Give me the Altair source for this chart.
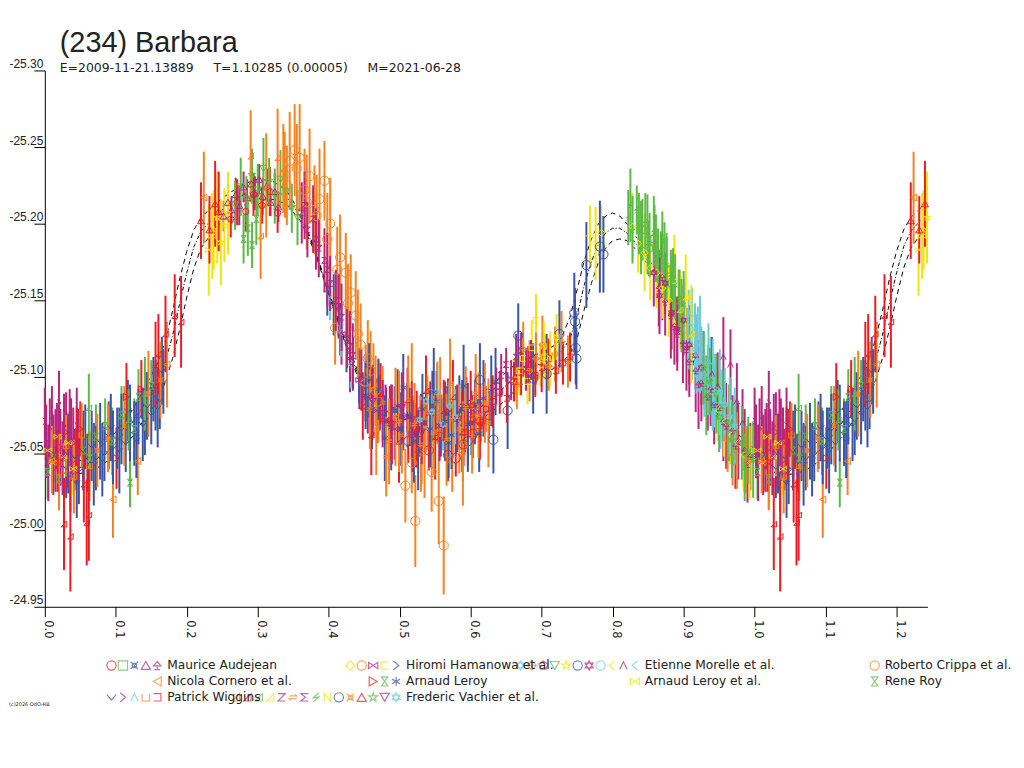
import altair as alt
import pandas as pd

# ---------------- colours & symbols (style) ----------------
RED = "#ec1c24"
ORANGE = "#f58220"
BLUE = "#3b54a5"
GREEN = "#5db947"
MAGENTA = "#b5267d"
YELLOW = "#f2e40c"
CYAN = "#6dcadb"

SHP = {
    "circle": "circle",
    "square": "square",
    "diamond": "diamond",
    "tri_up": "triangle-up",
    "tri_down": "triangle-down",
    "tri_left": "triangle-left",
    "tri_right": "triangle-right",
    "bowtie": "M-1,-0.7L1,0.7L1,-0.7L-1,0.7Z",
    "hourglass": "M-0.7,-1L0.7,-1L-0.7,1L0.7,1Z",
    "chev_v": "M-1,-0.6L0,0.6L1,-0.6",
    "chev_r": "M-0.6,-1L0.6,0L-0.6,1",
    "chev_l": "M0.6,-1L-0.6,0L0.6,1",
    "chev_up": "M-0.8,0.8L0,-0.8L0.8,0.8",
    "cup": "M-0.8,-0.8L-0.8,0.8L0.8,0.8L0.8,-0.8",
    "sqr_r": "M-0.8,-0.8L0.8,-0.8L0.8,0.8L-0.8,0.8",
    "sqr_l": "M0.8,-0.8L-0.8,-0.8L-0.8,0.8L0.8,0.8",
    "zee": "M-0.8,-0.8L0.8,-0.8L-0.8,0.8L0.8,0.8",
    "sigma": "M0.8,-0.8L-0.8,-0.8L0.2,0L-0.8,0.8L0.8,0.8",
    "bolt": "M0.6,-1L-0.6,0.1L0.6,-0.1L-0.6,1",
    "enn": "M-0.7,0.9L-0.7,-0.9L0.7,0.9L0.7,-0.9",
    "star": "M0,-1L0.22,-0.31L0.95,-0.31L0.36,0.12L0.59,0.81L0,0.38L-0.59,0.81L-0.36,0.12L-0.95,-0.31L-0.22,-0.31Z",
    "david": "M0,-1L0.87,0.5L-0.87,0.5Z M0,1L0.87,-0.5L-0.87,-0.5Z",
    "tee": "M-0.8,0.1L0,-0.9L0.8,0.1Z M0,0.1L0,0.9 M-0.6,0.9L0.6,0.9",
    "pentagon": "M0,-1L0.95,-0.31L0.59,0.81L-0.59,0.81L-0.95,-0.31Z",
    "rtri": "M-0.8,0.8L0.8,0.8L0.8,-0.8Z",
    "aster": "M0,-1L0,1M-0.87,-0.5L0.87,0.5M-0.87,0.5L0.87,-0.5",
    "boxtie": "M-0.8,-0.8L0.8,0.8M-0.8,0.8L0.8,-0.8M-0.45,-0.45L0.45,-0.45L0.45,0.45L-0.45,0.45Z",
    "swap": "M-0.8,-0.3L0.8,-0.3L0.4,-0.7M0.8,0.3L-0.8,0.3L-0.4,0.7",
    "dcross": "M0,-1L1,0L0,1L-1,0Z M0,-1L0,1 M-1,0L1,0",
}

# ---------------- data ----------------
# Maurice Audejean
AUD1_PH = [0.512, 0.527, 0.541, 0.556, 0.568, 0.579, 0.590, 0.603, 0.614, 0.626]
AUD1_MAG = [-25.058, -25.064, -25.052, -25.061, -25.049, -25.047, -25.056, -25.063, -25.071, -25.075]
AUD1_ERR = [0.014, 0.016, 0.013, 0.015, 0.017, 0.012, 0.014, 0.016, 0.013, 0.015]

AUD2_PH = [0.842, 0.851, 0.859, 0.868, 0.876, 0.884, 0.893]
AUD2_MAG = [-25.196, -25.184, -25.190, -25.176, -25.170, -25.161, -25.150]
AUD2_ERR = [0.020, 0.018, 0.022, 0.019, 0.021, 0.018, 0.020]

AUD3_PH = [0.472, 0.481, 0.493, 0.502, 0.514, 0.523, 0.535, 0.546, 0.558, 0.567, 0.579, 0.588, 0.601, 0.612]
AUD3_MAG = [-25.083, -25.071, -25.078, -25.066, -25.074, -25.062, -25.070, -25.081, -25.068, -25.076, -25.072, -25.079, -25.070, -25.084]
AUD3_ERR = [0.018, 0.022, 0.016, 0.024, 0.019, 0.021, 0.017, 0.023, 0.020, 0.018, 0.022, 0.019, 0.021, 0.017]

AUD4_PH = [0.252, 0.258, 0.263, 0.269, 0.274, 0.280, 0.285, 0.291, 0.296, 0.302, 0.307, 0.313, 0.318, 0.324, 0.329]
AUD4_MAG = [-25.205, -25.214, -25.209, -25.219, -25.212, -25.224, -25.217, -25.226, -25.220, -25.229, -25.218, -25.225, -25.214, -25.221, -25.211]
AUD4_ERR = [0.010, 0.012, 0.009, 0.011, 0.013, 0.010, 0.012, 0.009, 0.011, 0.010, 0.012, 0.011, 0.009, 0.012, 0.010]

AUD5_PH = [0.865, 0.874, 0.882, 0.891, 0.899, 0.908, 0.917, 0.925, 0.934, 0.943, 0.951, 0.960, 0.969, 0.977, 0.986, 0.994,
           0.870, 0.887, 0.904, 0.921, 0.938, 0.956, 0.973, 0.990]
AUD5_MAG = [-25.158, -25.149, -25.140, -25.128, -25.122, -25.110, -25.104, -25.096, -25.087, -25.082, -25.080, -25.068, -25.065, -25.058, -25.052, -25.048,
            -25.165, -25.133, -25.118, -25.095, -25.092, -25.071, -25.055, -25.043]
AUD5_ERR = [0.025, 0.022, 0.028, 0.024, 0.026, 0.023, 0.027, 0.025, 0.022, 0.026, 0.024, 0.028, 0.023, 0.025, 0.027, 0.022,
            0.028, 0.025, 0.027, 0.029, 0.024, 0.026, 0.028, 0.025]

# Hiromi Hamanowa et al.
HAM1_PH = [0.768, 0.776, 0.784, 0.828, 0.836, 0.845, 0.853, 0.862, 0.870, 0.879]
HAM1_MAG = [-25.192, -25.187, -25.194, -25.198, -25.187, -25.181, -25.171, -25.168, -25.158, -25.150]
HAM1_ERR = [0.020, 0.024, 0.018, 0.022, 0.019, 0.025, 0.021, 0.023, 0.020, 0.024]

HAM2_PH = [0.508, 0.517, 0.522, 0.531, 0.545, 0.555, 0.562, 0.574, 0.589]
HAM2_MAG = [-25.029, -25.044, -25.006, -25.052, -25.038, -25.019, -24.990, -25.046, -25.055]
HAM2_ERR = [0.024, 0.020, 0.030, 0.022, 0.026, 0.028, 0.032, 0.021, 0.023]

HAM3_PH = [0.418, 0.430, 0.443, 0.455, 0.468, 0.480, 0.493, 0.505, 0.518, 0.530, 0.543, 0.556, 0.568, 0.581, 0.594, 0.606]
HAM3_MAG = [-25.128, -25.112, -25.098, -25.087, -25.078, -25.072, -25.066, -25.074, -25.063, -25.070, -25.076, -25.068, -25.079, -25.073, -25.081, -25.077]
HAM3_ERR = [0.020, 0.022, 0.019, 0.024, 0.021, 0.023, 0.020, 0.022, 0.025, 0.019, 0.021, 0.023, 0.020, 0.022, 0.019, 0.021]

HAM4_PH = [0.662, 0.668, 0.674, 0.680, 0.686, 0.692, 0.698, 0.704]
HAM4_MAG = [-25.098, -25.104, -25.112, -25.097, -25.119, -25.137, -25.108, -25.113]
HAM4_ERR = [0.014, 0.016, 0.013, 0.015, 0.018, 0.017, 0.014, 0.015]

HAM5_PH = [0.398, 0.407, 0.416, 0.425, 0.434, 0.443, 0.452, 0.461]
HAM5_MAG = [-25.158, -25.147, -25.131, -25.124, -25.110, -25.101, -25.093, -25.087]
HAM5_ERR = [0.018, 0.020, 0.017, 0.021, 0.019, 0.018, 0.022, 0.020]

# Etienne Morelle et al.
MOR1_PH = [0.528, 0.537, 0.545, 0.553, 0.561, 0.570, 0.578]
MOR1_MAG = [-25.072, -25.084, -25.077, -25.090, -25.069, -25.081, -25.074]
MOR1_ERR = [0.016, 0.018, 0.015, 0.019, 0.017, 0.016, 0.018]

MOR2_PH = [0.665, 0.674, 0.683, 0.692, 0.701, 0.710, 0.719, 0.728, 0.737]
MOR2_MAG = [-25.095, -25.118, -25.104, -25.112, -25.121, -25.107, -25.115, -25.123, -25.110]
MOR2_ERR = [0.016, 0.018, 0.020, 0.017, 0.019, 0.016, 0.018, 0.020, 0.017]

MOR3_PH = [0.262, 0.271, 0.283, 0.294, 0.306, 0.317, 0.328]
MOR3_MAG = [-25.203, -25.214, -25.208, -25.219, -25.212, -25.221, -25.207]
MOR3_ERR = [0.012, 0.015, 0.013, 0.014, 0.012, 0.016, 0.013]

MOR4_PH = [0.268, 0.276, 0.284, 0.292, 0.300, 0.308, 0.316, 0.324, 0.332, 0.340, 0.348, 0.356]
MOR4_MAG = [-25.212, -25.224, -25.216, -25.231, -25.222, -25.236, -25.227, -25.218, -25.229, -25.221, -25.210, -25.204]
MOR4_ERR = [0.016, 0.019, 0.015, 0.018, 0.017, 0.020, 0.016, 0.018, 0.019, 0.017, 0.016, 0.018]

MOR5_PH = [0.238, 0.243, 0.248, 0.253, 0.258]
MOR5_MAG = [-25.196, -25.204, -25.188, -25.199, -25.207]
MOR5_ERR = [0.026, 0.030, 0.028, 0.024, 0.027]

MOR6_PH = [0.596, 0.613, 0.632, 0.652, 0.667, 0.688, 0.707, 0.725]
MOR6_MAG = [-25.058, -25.098, -25.059, -25.078, -25.127, -25.099, -25.102, -25.128]
MOR6_ERR = [0.020, 0.024, 0.022, 0.025, 0.021, 0.023, 0.026, 0.022]

MOR7_PH = [0.858, 0.866, 0.874, 0.883, 0.891, 0.900, 0.908, 0.917, 0.925]
MOR7_MAG = [-25.168, -25.153, -25.161, -25.142, -25.131, -25.137, -25.121, -25.114, -25.106]
MOR7_ERR = [0.022, 0.025, 0.020, 0.024, 0.021, 0.023, 0.026, 0.022, 0.024]

MOR8_PH = [0.902, 0.907, 0.911, 0.916, 0.920, 0.925, 0.929, 0.934, 0.938, 0.943, 0.947, 0.952]
MOR8_MAG = [-25.142, -25.131, -25.137, -25.124, -25.118, -25.112, -25.104, -25.098, -25.106, -25.091, -25.086, -25.079]
MOR8_ERR = [0.022, 0.026, 0.020, 0.024, 0.028, 0.021, 0.025, 0.023, 0.020, 0.024, 0.022, 0.026]

MOR9_PH = [0.948, 0.957, 0.966, 0.975, 0.984, 0.993]
MOR9_MAG = [-25.078, -25.071, -25.062, -25.057, -25.049, -25.044]
MOR9_ERR = [0.020, 0.023, 0.019, 0.022, 0.021, 0.024]

MOR10_PH = [0.940, 0.948, 0.956, 0.966, 0.975, 0.983]
MOR10_MAG = [-25.102, -25.094, -25.113, -25.108, -25.084, -25.070]
MOR10_ERR = [0.024, 0.022, 0.026, 0.023, 0.025, 0.022]

MOR11_PH = [0.402, 0.417, 0.431, 0.446, 0.460]
MOR11_MAG = [-25.151, -25.129, -25.108, -25.096, -25.084]
MOR11_ERR = [0.014, 0.016, 0.015, 0.017, 0.014]

# Roberto Crippa et al.
CRI_PH = [0.338, 0.345, 0.352, 0.359, 0.366, 0.373, 0.380, 0.387, 0.394, 0.402, 0.409, 0.416, 0.424, 0.431, 0.438, 0.445, 0.452, 0.459, 0.466,
          0.341, 0.355, 0.369, 0.383, 0.398, 0.412, 0.427, 0.441, 0.455, 0.470]
CRI_MAG = [-25.232, -25.241, -25.248, -25.243, -25.222, -25.231, -25.209, -25.216, -25.228, -25.200, -25.132, -25.178, -25.168, -25.155, -25.140, -25.121, -25.097, -25.104, -25.091,
           -25.225, -25.236, -25.214, -25.205, -25.190, -25.170, -25.148, -25.128, -25.112, -25.084]
CRI_ERR = [0.028, 0.032, 0.030, 0.035, 0.027, 0.031, 0.029, 0.033, 0.026, 0.030, 0.024, 0.028, 0.026, 0.025, 0.029, 0.027, 0.024, 0.026, 0.023,
           0.026, 0.029, 0.031, 0.027, 0.030, 0.028, 0.026, 0.029, 0.025, 0.027]

# Nicola Cornero et al.
COR_PH = [0.096, 0.131, 0.172, 0.224, 0.969]
COR_MAG = [-25.020, -25.045, -25.108, -25.217, -25.049]
COR_ERR = [0.025, 0.022, 0.028, 0.030, 0.020]

# Arnaud Leroy
LER1_PH = [0.050, 0.101, 0.115, 0.136]
LER1_MAG = [-25.066, -25.047, -25.087, -25.092]
LER1_ERR = [0.018, 0.020, 0.022, 0.019]

LER2_PH = [0.280, 0.286, 0.292, 0.298]
LER2_MAG = [-25.190, -25.197, -25.186, -25.203]
LER2_ERR = [0.016, 0.018, 0.015, 0.017]

LER3_PH = [0.452, 0.461, 0.470, 0.488, 0.497, 0.511, 0.520, 0.532, 0.543, 0.552, 0.564, 0.573, 0.584, 0.596, 0.607, 0.618, 0.629,
           0.457, 0.479, 0.505, 0.526, 0.548, 0.569, 0.590, 0.612, 0.635]
LER3_MAG = [-25.088, -25.079, -25.092, -25.067, -25.081, -25.075, -25.058, -25.079, -25.066, -25.084, -25.071, -25.062, -25.077, -25.069, -25.081, -25.086, -25.091,
            -25.098, -25.060, -25.093, -25.052, -25.090, -25.057, -25.094, -25.063, -25.097]
LER3_ERR = [0.022, 0.026, 0.020, 0.028, 0.024, 0.021, 0.027, 0.023, 0.025, 0.020, 0.026, 0.022, 0.024, 0.027, 0.021, 0.025, 0.023,
            0.024, 0.028, 0.022, 0.026, 0.029, 0.023, 0.027, 0.025, 0.022]

# Arnaud Leroy et al.
LEA_PH = [0.004, 0.011, 0.018, 0.026, 0.033, 0.040, 0.231, 0.236]
LEA_MAG = [-25.052, -25.044, -25.061, -25.048, -25.057, -25.040, -25.183, -25.192]
LEA_ERR = [0.016, 0.019, 0.015, 0.018, 0.020, 0.017, 0.030, 0.028]

# Rene Roy
ROY_PH = [0.004, 0.012, 0.020, 0.054, 0.063, 0.072, 0.085, 0.095, 0.108, 0.120, 0.126, 0.132, 0.143, 0.150]
ROY_MAG = [-25.038, -25.047, -25.033, -25.052, -25.047, -25.061, -25.068, -25.058, -25.075, -25.031, -25.066, -25.087, -25.082, -25.094]
ROY_ERR = [0.018, 0.016, 0.019, 0.020, 0.017, 0.021, 0.018, 0.022, 0.019, 0.016, 0.020, 0.018, 0.021, 0.017]

# Patrick Wiggins
WIG1_PH = [0.030, 0.036, 0.042, 0.048, 0.054, 0.060, 0.066, 0.072, 0.078, 0.084, 0.090, 0.096, 0.102, 0.108, 0.114, 0.120, 0.126, 0.132, 0.138, 0.144, 0.150, 0.156, 0.162, 0.167,
           0.033, 0.045, 0.057, 0.069, 0.081, 0.093, 0.105, 0.117, 0.129, 0.141, 0.153, 0.159, 0.165]
WIG1_MAG = [-25.041, -25.036, -25.048, -25.039, -25.052, -25.044, -25.055, -25.047, -25.058, -25.050, -25.062, -25.054, -25.060, -25.066, -25.057, -25.070, -25.063, -25.074, -25.069, -25.081, -25.076, -25.088, -25.085, -25.097,
            -25.050, -25.031, -25.061, -25.043, -25.046, -25.067, -25.052, -25.078, -25.059, -25.072, -25.092, -25.080, -25.104]
WIG1_ERR = [0.020, 0.024, 0.018, 0.022, 0.026, 0.019, 0.023, 0.021, 0.025, 0.018, 0.022, 0.024, 0.020, 0.023, 0.019, 0.025, 0.021, 0.018, 0.024, 0.022, 0.020, 0.023, 0.019, 0.021,
            0.026, 0.023, 0.021, 0.027, 0.024, 0.022, 0.028, 0.020, 0.025, 0.023, 0.021, 0.026, 0.022]

WIG2_PH = [0.002, 0.007, 0.012, 0.017, 0.022, 0.027, 0.032, 0.037, 0.042, 0.047,
           0.000, 0.005, 0.010, 0.015, 0.020, 0.025, 0.030, 0.035, 0.040, 0.045]
WIG2_MAG = [-25.058, -25.066, -25.049, -25.061, -25.054, -25.068, -25.051, -25.059, -25.046, -25.055,
            -25.071, -25.044, -25.075, -25.052, -25.083, -25.047, -25.064, -25.072, -25.057, -25.068]
WIG2_ERR = [0.024, 0.020, 0.026, 0.022, 0.025, 0.021, 0.023, 0.027, 0.020, 0.024,
            0.022, 0.025, 0.019, 0.027, 0.021, 0.024, 0.026, 0.020, 0.023, 0.025]

WIG3_PH = [0.912, 0.918, 0.923, 0.929, 0.935, 0.941]
WIG3_MAG = [-25.128, -25.115, -25.121, -25.102, -25.110, -25.095]
WIG3_ERR = [0.030, 0.026, 0.032, 0.028, 0.025, 0.030]

WIG4_PH = [0.010, 0.020, 0.030, 0.041, 0.052, 0.063, 0.962, 0.975, 0.988]
WIG4_MAG = [-25.046, -25.038, -25.055, -25.035, -25.062, -25.042, -25.060, -25.052, -25.045]
WIG4_ERR = [0.022, 0.025, 0.020, 0.024, 0.021, 0.023, 0.022, 0.025, 0.021]

WIG5_PH = [0.592, 0.602, 0.612, 0.621, 0.631, 0.641, 0.651, 0.661, 0.671, 0.681, 0.691, 0.700, 0.710, 0.720, 0.730, 0.740]
WIG5_MAG = [-25.064, -25.072, -25.068, -25.079, -25.084, -25.090, -25.086, -25.097, -25.103, -25.108, -25.101, -25.106, -25.112, -25.104, -25.109, -25.113]
WIG5_ERR = [0.014, 0.016, 0.013, 0.015, 0.017, 0.014, 0.016, 0.013, 0.015, 0.012, 0.014, 0.016, 0.013, 0.015, 0.014, 0.016]

# Frederic Vachier et al.
VAC1_PH = [0.290, 0.304, 0.312, 0.328, 0.336]
VAC1_MAG = [-25.244, -25.192, -25.225, -25.243, -25.236]
VAC1_ERR = [0.030, 0.028, 0.034, 0.032, 0.029]

VAC2_PH = [0.018, 0.027, 0.036, 0.045, 0.055, 0.059, 0.062, 0.156, 0.160, 0.170, 0.183, 0.192,
           0.448, 0.460, 0.473, 0.486, 0.499, 0.511, 0.524, 0.537, 0.550, 0.562, 0.575, 0.588, 0.600, 0.613]
VAC2_MAG = [-25.045, -25.004, -24.996, -25.058, -25.030, -25.005, -25.010, -25.108, -25.115, -25.128, -25.140, -25.136,
            -25.081, -25.062, -25.089, -25.070, -25.058, -25.085, -25.066, -25.091, -25.061, -25.078, -25.087, -25.064, -25.082, -25.071]
VAC2_ERR = [0.020, 0.030, 0.036, 0.022, 0.025, 0.028, 0.030, 0.028, 0.026, 0.025, 0.027, 0.030,
            0.022, 0.026, 0.020, 0.024, 0.027, 0.021, 0.025, 0.023, 0.028, 0.020, 0.024, 0.026, 0.022, 0.025]

VAC3_PH = [0.062, 0.118, 0.141]
VAC3_MAG = [-25.080, -25.072, -25.089]
VAC3_ERR = [0.022, 0.020, 0.024]

VAC4_PH = [0.887, 0.895, 0.903, 0.911]
VAC4_MAG = [-25.163, -25.144, -25.152, -25.128]
VAC4_ERR = [0.030, 0.026, 0.028, 0.032]

VAC5_PH = [0.362, 0.370, 0.378, 0.386, 0.394, 0.402, 0.410, 0.418, 0.426, 0.434,
           0.366, 0.382, 0.398, 0.414, 0.430, 0.446]
VAC5_MAG = [-25.207, -25.196, -25.203, -25.184, -25.176, -25.161, -25.150, -25.139, -25.125, -25.114,
            -25.212, -25.190, -25.170, -25.146, -25.120, -25.098]
VAC5_ERR = [0.020, 0.018, 0.022, 0.019, 0.021, 0.018, 0.020, 0.022, 0.019, 0.021,
            0.022, 0.020, 0.024, 0.021, 0.023, 0.020]

VAC6_PH = [0.458, 0.467, 0.476, 0.485, 0.494, 0.503, 0.512, 0.521, 0.530, 0.539, 0.548, 0.557, 0.566, 0.575, 0.584, 0.593, 0.602, 0.611, 0.620,
           0.463, 0.481, 0.499, 0.517, 0.535, 0.553, 0.571, 0.589, 0.607, 0.625]
VAC6_MAG = [-25.079, -25.066, -25.083, -25.058, -25.074, -25.062, -25.085, -25.069, -25.056, -25.077, -25.064, -25.087, -25.059, -25.072, -25.066, -25.080, -25.061, -25.075, -25.083,
            -25.092, -25.048, -25.071, -25.094, -25.052, -25.083, -25.095, -25.050, -25.089, -25.070]
VAC6_ERR = [0.026, 0.030, 0.024, 0.028, 0.032, 0.025, 0.029, 0.027, 0.031, 0.024, 0.028, 0.026, 0.030, 0.025, 0.029, 0.027, 0.024, 0.028, 0.026,
            0.030, 0.026, 0.033, 0.028, 0.031, 0.027, 0.030, 0.034, 0.026, 0.029]

VAC7_PH = [0.636, 0.643, 0.650, 0.657, 0.664, 0.671, 0.678, 0.685]
VAC7_MAG = [-25.094, -25.101, -25.108, -25.098, -25.113, -25.117, -25.105, -25.111]
VAC7_ERR = [0.012, 0.014, 0.011, 0.013, 0.015, 0.012, 0.014, 0.013]

VAC8_PH = [0.822, 0.828, 0.834, 0.840, 0.846, 0.852, 0.858, 0.864, 0.870, 0.876, 0.882, 0.888, 0.894, 0.900,
           0.825, 0.837, 0.849, 0.861, 0.873, 0.885, 0.897]
VAC8_MAG = [-25.204, -25.196, -25.209, -25.191, -25.201, -25.186, -25.195, -25.179, -25.188, -25.172, -25.166, -25.159, -25.151, -25.146,
            -25.212, -25.200, -25.193, -25.184, -25.176, -25.163, -25.140]
VAC8_ERR = [0.018, 0.022, 0.016, 0.024, 0.019, 0.021, 0.023, 0.018, 0.020, 0.022, 0.017, 0.021, 0.019, 0.023,
            0.024, 0.020, 0.026, 0.022, 0.025, 0.021, 0.024]

VAC9_PH = [0.703, 0.712, 0.721]
VAC9_MAG = [-25.120, -25.112, -25.126]
VAC9_ERR = [0.016, 0.018, 0.015]

VAC10_PH = [0.746, 0.747, 0.748, 0.749, 0.763, 0.782, 0.787]
VAC10_MAG = [-25.142, -25.136, -25.119, -25.112, -25.173, -25.185, -25.180]
VAC10_ERR = [0.026, 0.022, 0.024, 0.020, 0.028, 0.030, 0.025]

VAC11_PH = [0.074, 0.089, 0.112, 0.146, 0.163]
VAC11_MAG = [-25.052, -25.060, -25.068, -25.089, -25.098]
VAC11_ERR = [0.024, 0.022, 0.026, 0.028, 0.025]

VAC12_PH = [0.220, 0.232, 0.240, 0.245]
VAC12_MAG = [-25.202, -25.196, -25.213, -25.208]
VAC12_ERR = [0.025, 0.022, 0.028, 0.026]

VAC13_PH = [0.928, 0.937, 0.946, 0.955, 0.964, 0.973, 0.982, 0.991, 0.998, 0.932, 0.950, 0.968, 0.986]
VAC13_MAG = [-25.106, -25.097, -25.089, -25.081, -25.070, -25.065, -25.057, -25.052, -25.046, -25.088, -25.074, -25.059, -25.041]
VAC13_ERR = [0.024, 0.022, 0.026, 0.023, 0.025, 0.021, 0.024, 0.022, 0.025, 0.026, 0.023, 0.025, 0.022]

VAC14_PH = [0.462, 0.476, 0.489, 0.503, 0.517, 0.531]
VAC14_MAG = [-25.084, -25.076, -25.069, -25.080, -25.072, -25.064]
VAC14_ERR = [0.024, 0.022, 0.026, 0.023, 0.025, 0.021]

VAC15_PH = [0.951, 0.958, 0.965, 0.972]
VAC15_MAG = [-25.090, -25.082, -25.074, -25.068]
VAC15_ERR = [0.028, 0.024, 0.026, 0.025]

# model curve (centre and its two limits)
CURVE_PH = [0.00, 0.02, 0.04, 0.06, 0.08, 0.10, 0.12, 0.14, 0.16, 0.17, 0.18, 0.19, 0.20, 0.21, 0.22, 0.24,
            0.26, 0.28, 0.30, 0.32, 0.34, 0.36, 0.38, 0.40, 0.42, 0.44, 0.46, 0.48, 0.50, 0.52, 0.54, 0.56,
            0.58, 0.60, 0.62, 0.64, 0.66, 0.68, 0.70, 0.72, 0.73, 0.74, 0.75, 0.76, 0.77, 0.78, 0.79, 0.80,
            0.81, 0.82, 0.84, 0.86, 0.88, 0.90, 0.92, 0.94, 0.96, 0.98, 1.00, 1.02, 1.04, 1.06, 1.08, 1.10,
            1.12, 1.14, 1.16, 1.17, 1.18, 1.19, 1.20, 1.21, 1.22, 1.24]
CURVE_MID = [-25.047, -25.042, -25.040, -25.042, -25.048, -25.057, -25.068, -25.082, -25.097, -25.110, -25.127, -25.148, -25.168, -25.185, -25.195, -25.205,
             -25.213, -25.219, -25.222, -25.222, -25.218, -25.205, -25.183, -25.155, -25.127, -25.103, -25.088, -25.078, -25.073, -25.071, -25.071, -25.072,
             -25.074, -25.077, -25.082, -25.090, -25.099, -25.105, -25.109, -25.113, -25.118, -25.125, -25.140, -25.160, -25.175, -25.187, -25.194, -25.197,
             -25.197, -25.194, -25.183, -25.167, -25.147, -25.125, -25.103, -25.085, -25.070, -25.058, -25.048, -25.043, -25.040, -25.041, -25.047, -25.056,
             -25.068, -25.082, -25.097, -25.110, -25.127, -25.148, -25.168, -25.185, -25.195, -25.205]
CURVE_HI = [-25.052, -25.046, -25.044, -25.047, -25.055, -25.064, -25.076, -25.092, -25.110, -25.124, -25.143, -25.164, -25.182, -25.196, -25.204, -25.213,
            -25.220, -25.226, -25.229, -25.228, -25.222, -25.207, -25.184, -25.156, -25.128, -25.105, -25.091, -25.082, -25.078, -25.076, -25.077, -25.078,
            -25.081, -25.085, -25.091, -25.099, -25.107, -25.112, -25.116, -25.121, -25.128, -25.139, -25.157, -25.176, -25.190, -25.200, -25.205, -25.207,
            -25.205, -25.200, -25.187, -25.169, -25.148, -25.125, -25.103, -25.086, -25.072, -25.061, -25.053, -25.047, -25.045, -25.047, -25.054, -25.063,
            -25.076, -25.092, -25.110, -25.124, -25.143, -25.164, -25.182, -25.196, -25.204, -25.213]
CURVE_LO = [-25.042, -25.038, -25.036, -25.038, -25.042, -25.050, -25.059, -25.072, -25.085, -25.097, -25.112, -25.131, -25.152, -25.171, -25.184, -25.197,
            -25.206, -25.212, -25.215, -25.216, -25.213, -25.202, -25.182, -25.154, -25.126, -25.101, -25.085, -25.074, -25.068, -25.066, -25.066, -25.067,
            -25.068, -25.070, -25.074, -25.081, -25.090, -25.098, -25.102, -25.106, -25.110, -25.115, -25.125, -25.144, -25.161, -25.175, -25.184, -25.189,
            -25.190, -25.189, -25.180, -25.165, -25.146, -25.124, -25.102, -25.084, -25.068, -25.055, -25.045, -25.039, -25.036, -25.037, -25.041, -25.049,
            -25.059, -25.072, -25.085, -25.097, -25.112, -25.131, -25.152, -25.171, -25.184, -25.197]

# axes
X_TICKS = [0.0, 0.05, 0.1, 0.15, 0.2, 0.25, 0.3, 0.35, 0.4, 0.45, 0.5, 0.55, 0.6, 0.65, 0.7, 0.75,
           0.8, 0.85, 0.9, 0.95, 1.0, 1.05, 1.1, 1.15, 1.2]
X_MAX = 1.2435
Y_TICKS = [-25.30, -25.25, -25.20, -25.15, -25.10, -25.05, -25.00, -24.95]

TITLE = "(234) Barbara"
SUBTITLE = ("E=2009-11-21.13889" + "\u00a0" * 5 + "T=1.10285 (0.00005)" + "\u00a0" * 5 + "M=2021-06-28")
COPYRIGHT = "(c)2026 OdO-RB"

OBSERVERS = ["Maurice Audejean", "Hiromi Hamanowa et al.", "Etienne Morelle et al.", "Roberto Crippa et al.",
             "Nicola Cornero et al.", "Arnaud Leroy", "Arnaud Leroy et al.", "Rene Roy",
             "Patrick Wiggins", "Frederic Vachier et al."]

SESSIONS = [
    ("Maurice Audejean", RED, "circle", AUD1_PH, AUD1_MAG, AUD1_ERR),
    ("Maurice Audejean", GREEN, "square", AUD2_PH, AUD2_MAG, AUD2_ERR),
    ("Maurice Audejean", BLUE, "boxtie", AUD3_PH, AUD3_MAG, AUD3_ERR),
    ("Maurice Audejean", MAGENTA, "tri_up", AUD4_PH, AUD4_MAG, AUD4_ERR),
    ("Maurice Audejean", MAGENTA, "tee", AUD5_PH, AUD5_MAG, AUD5_ERR),
    ("Hiromi Hamanowa et al.", YELLOW, "diamond", HAM1_PH, HAM1_MAG, HAM1_ERR),
    ("Hiromi Hamanowa et al.", ORANGE, "circle", HAM2_PH, HAM2_MAG, HAM2_ERR),
    ("Hiromi Hamanowa et al.", MAGENTA, "bowtie", HAM3_PH, HAM3_MAG, HAM3_ERR),
    ("Hiromi Hamanowa et al.", YELLOW, "sqr_l", HAM4_PH, HAM4_MAG, HAM4_ERR),
    ("Hiromi Hamanowa et al.", BLUE, "chev_r", HAM5_PH, HAM5_MAG, HAM5_ERR),
    ("Etienne Morelle et al.", CYAN, "david", MOR1_PH, MOR1_MAG, MOR1_ERR),
    ("Etienne Morelle et al.", ORANGE, "dcross", MOR2_PH, MOR2_MAG, MOR2_ERR),
    ("Etienne Morelle et al.", RED, "pentagon", MOR3_PH, MOR3_MAG, MOR3_ERR),
    ("Etienne Morelle et al.", GREEN, "tri_down", MOR4_PH, MOR4_MAG, MOR4_ERR),
    ("Etienne Morelle et al.", YELLOW, "star", MOR5_PH, MOR5_MAG, MOR5_ERR),
    ("Etienne Morelle et al.", BLUE, "circle", MOR6_PH, MOR6_MAG, MOR6_ERR),
    ("Etienne Morelle et al.", MAGENTA, "david", MOR7_PH, MOR7_MAG, MOR7_ERR),
    ("Etienne Morelle et al.", CYAN, "circle", MOR8_PH, MOR8_MAG, MOR8_ERR),
    ("Etienne Morelle et al.", YELLOW, "chev_l", MOR9_PH, MOR9_MAG, MOR9_ERR),
    ("Etienne Morelle et al.", MAGENTA, "chev_up", MOR10_PH, MOR10_MAG, MOR10_ERR),
    ("Etienne Morelle et al.", CYAN, "chev_l", MOR11_PH, MOR11_MAG, MOR11_ERR),
    ("Roberto Crippa et al.", ORANGE, "circle", CRI_PH, CRI_MAG, CRI_ERR),
    ("Nicola Cornero et al.", ORANGE, "tri_left", COR_PH, COR_MAG, COR_ERR),
    ("Arnaud Leroy", RED, "tri_right", LER1_PH, LER1_MAG, LER1_ERR),
    ("Arnaud Leroy", GREEN, "hourglass", LER2_PH, LER2_MAG, LER2_ERR),
    ("Arnaud Leroy", BLUE, "aster", LER3_PH, LER3_MAG, LER3_ERR),
    ("Arnaud Leroy et al.", YELLOW, "bowtie", LEA_PH, LEA_MAG, LEA_ERR),
    ("Rene Roy", GREEN, "hourglass", ROY_PH, ROY_MAG, ROY_ERR),
    ("Patrick Wiggins", BLUE, "chev_v", WIG1_PH, WIG1_MAG, WIG1_ERR),
    ("Patrick Wiggins", MAGENTA, "chev_r", WIG2_PH, WIG2_MAG, WIG2_ERR),
    ("Patrick Wiggins", CYAN, "chev_up", WIG3_PH, WIG3_MAG, WIG3_ERR),
    ("Patrick Wiggins", ORANGE, "cup", WIG4_PH, WIG4_MAG, WIG4_ERR),
    ("Patrick Wiggins", RED, "sqr_r", WIG5_PH, WIG5_MAG, WIG5_ERR),
    ("Frederic Vachier et al.", ORANGE, "rtri", VAC1_PH, VAC1_MAG, VAC1_ERR),
    ("Frederic Vachier et al.", RED, "rtri", VAC2_PH, VAC2_MAG, VAC2_ERR),
    ("Frederic Vachier et al.", GREEN, "rtri", VAC3_PH, VAC3_MAG, VAC3_ERR),
    ("Frederic Vachier et al.", YELLOW, "rtri", VAC4_PH, VAC4_MAG, VAC4_ERR),
    ("Frederic Vachier et al.", MAGENTA, "zee", VAC5_PH, VAC5_MAG, VAC5_ERR),
    ("Frederic Vachier et al.", ORANGE, "swap", VAC6_PH, VAC6_MAG, VAC6_ERR),
    ("Frederic Vachier et al.", MAGENTA, "sigma", VAC7_PH, VAC7_MAG, VAC7_ERR),
    ("Frederic Vachier et al.", GREEN, "bolt", VAC8_PH, VAC8_MAG, VAC8_ERR),
    ("Frederic Vachier et al.", YELLOW, "enn", VAC9_PH, VAC9_MAG, VAC9_ERR),
    ("Frederic Vachier et al.", BLUE, "circle", VAC10_PH, VAC10_MAG, VAC10_ERR),
    ("Frederic Vachier et al.", ORANGE, "boxtie", VAC11_PH, VAC11_MAG, VAC11_ERR),
    ("Frederic Vachier et al.", RED, "tri_up", VAC12_PH, VAC12_MAG, VAC12_ERR),
    ("Frederic Vachier et al.", GREEN, "star", VAC13_PH, VAC13_MAG, VAC13_ERR),
    ("Frederic Vachier et al.", MAGENTA, "tri_down", VAC14_PH, VAC14_MAG, VAC14_ERR),
    ("Frederic Vachier et al.", CYAN, "david", VAC15_PH, VAC15_MAG, VAC15_ERR),
]

# ---------------- tables ----------------
rows = []
for sid, (obs, col, shp, phs, mags, errs) in enumerate(SESSIONS):
    size = 85 if shp == "circle" else 50
    for p, m, e in zip(phs, mags, errs):
        for shift in (0.0, 1.0):
            if p + shift <= X_MAX:
                rows.append(dict(sid=sid, ph=p + shift, mag=m, lo=m - e, hi=m + e,
                                 color=col, shape=SHP[shp], sz=size))
pts = pd.DataFrame(rows)

curves = pd.DataFrame({"ph": CURVE_PH, "mid": CURVE_MID, "hi": CURVE_HI, "lo": CURVE_LO})

W, H = 887, 539
xs = alt.Scale(domain=[0, X_MAX], nice=False, zero=False)
ys = alt.Scale(domain=[Y_TICKS[0], Y_TICKS[-1]], reverse=True, nice=False, zero=False)

x_axis = alt.Axis(values=X_TICKS,
                  labelExpr="abs(datum.value*10 - round(datum.value*10)) < 0.01 ? format(datum.value, '.1f') : ''",
                  labelAngle=90, labelAlign="left", labelBaseline="alphabetic", tickSize=10, labelPadding=3,
                  labelFont="DejaVu Sans", labelFontSize=11.5, labelColor="#222", domainColor="black",
                  tickColor="black", grid=False, title=None, labelOverlap=False, labelFlush=False)
y_axis = alt.Axis(values=Y_TICKS, labelExpr="'-' + format(abs(datum.value), '.2f')",
                  tickSize=11, labelPadding=-9, labelBaseline="bottom",
                  labelFont="Liberation Sans", labelFontSize=12, labelColor="#222", domainColor="black",
                  tickColor="black", grid=False, title=None, labelOverlap=False, labelFlush=False)

base_c = alt.Chart(curves)
line_mid = base_c.mark_line(color="black", strokeWidth=1, strokeDash=[4, 2, 1, 2]).encode(
    x=alt.X("ph:Q", scale=xs, axis=x_axis), y=alt.Y("mid:Q", scale=ys, axis=y_axis))
line_hi = base_c.mark_line(color="black", strokeWidth=1, strokeDash=[5, 4]).encode(
    x=alt.X("ph:Q", scale=xs), y=alt.Y("hi:Q", scale=ys))
line_lo = base_c.mark_line(color="black", strokeWidth=1, strokeDash=[5, 4]).encode(
    x=alt.X("ph:Q", scale=xs), y=alt.Y("lo:Q", scale=ys))

base_p = alt.Chart(pts)
bars = base_p.mark_rule(strokeWidth=2).encode(
    x=alt.X("ph:Q", scale=xs), y=alt.Y("lo:Q", scale=ys), y2="hi:Q",
    color=alt.Color("color:N", scale=None))
marks = base_p.mark_point(filled=False, strokeWidth=1, opacity=1).encode(
    x=alt.X("ph:Q", scale=xs), y=alt.Y("mag:Q", scale=ys),
    color=alt.Color("color:N", scale=None), shape=alt.Shape("shape:N", scale=None),
    size=alt.Size("sz:Q", scale=None))

main = alt.layer(line_hi, line_lo, line_mid, bars, marks).properties(
    width=W, height=H,
    title=alt.TitleParams(text=TITLE, subtitle=SUBTITLE, anchor="start", frame="group", dx=15, offset=-17,
                          font="Liberation Sans", fontSize=29, fontWeight="normal", color="#222",
                          subtitleFont="DejaVu Sans", subtitleFontSize=12.5, subtitleColor="#222",
                          subtitlePadding=4))

# ---------------- legend (built from the sessions) ----------------
LEG_TEXT_X = [123, 363, 603, 844]
LEG_STEP = 11.5
sym_rows, txt_rows = [], []
for i, obs in enumerate(OBSERVERS):
    c, r = i % 4, i // 4
    ses = [s for s in SESSIONS if s[0] == obs]
    n = len(ses)
    for k, s in enumerate(ses):
        sym_rows.append(dict(lx=LEG_TEXT_X[c] - 10 - LEG_STEP * (n - 1 - k), ly=r + 0.5,
                             color=s[1], shape=SHP[s[2]]))
    txt_rows.append(dict(lx=LEG_TEXT_X[c], ly=r + 0.5, label=obs))
txt_rows.append(dict(lx=-36, ly=2.95, label=COPYRIGHT))
sym_df = pd.DataFrame(sym_rows)
txt_df = pd.DataFrame(txt_rows)

lxs = alt.Scale(domain=[0, W], nice=False, zero=False)
lys = alt.Scale(domain=[0, 3], reverse=True, nice=False, zero=False)
leg_sym = alt.Chart(sym_df).mark_point(filled=False, strokeWidth=1.2, size=85).encode(
    x=alt.X("lx:Q", scale=lxs, axis=None), y=alt.Y("ly:Q", scale=lys, axis=None),
    color=alt.Color("color:N", scale=None), shape=alt.Shape("shape:N", scale=None))
leg_txt = alt.Chart(txt_df).mark_text(align="left", baseline="middle", font="DejaVu Sans", color="#222").encode(
    x=alt.X("lx:Q", scale=lxs, axis=None), y=alt.Y("ly:Q", scale=lys, axis=None), text="label:N",
    size=alt.condition(alt.datum.label == COPYRIGHT, alt.value(5), alt.value(12.3)))
legend = alt.layer(leg_sym, leg_txt).properties(width=W, height=48)

chart = alt.vconcat(main, legend, spacing=19).properties(
    padding={"left": 0, "top": 19, "right": 4, "bottom": 4}
).configure_view(stroke=None)

chart.save("out.html", embed_options={"renderer": "svg", "actions": False})
